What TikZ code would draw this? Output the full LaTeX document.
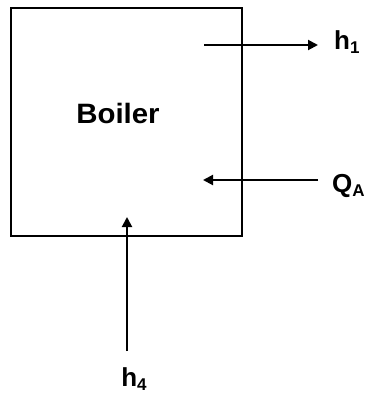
\documentclass[tikz,border=0pt]{standalone}
\usepackage{fontspec}
\setmainfont{Liberation Sans}
\usetikzlibrary{arrows.meta}
\begin{document}
\begin{tikzpicture}[x=1pt,y=-1pt,
  flow/.style={line width=2pt,-{Triangle[length=10pt,width=10pt]}},
  lbl/.style={inner sep=0pt,font=\bfseries\fontsize{26}{28}\selectfont}]
\useasboundingbox (0,0) rectangle (372,394);
\node[draw,line width=2pt,minimum width=231pt,minimum height=228pt,inner sep=0pt] (box) at (126.5,122) {};
\node[inner sep=0pt,font=\bfseries\fontsize{28}{30}\selectfont,anchor=base] (boiler) at (118,123) {\scalebox{1.05}[1]{Boiler}};
\node[lbl,anchor=base west] (h1) at (334,49) {h\raisebox{-0.3ex}{\fontsize{17}{17}\selectfont 1}};
\node[lbl,anchor=base west] (qa) at (332,192) {Q\raisebox{-0.3ex}{\fontsize{17}{17}\selectfont A}};
\node[lbl,anchor=base] (h4) at (134,386) {h\raisebox{-0.3ex}{\fontsize{17}{17}\selectfont 4}};
\coordinate (h1s) at (204,45);
\coordinate (h1e) at (318,45);
\coordinate (qas) at (318,180);
\coordinate (qae) at (203,180);
\coordinate (h4s) at (127,351);
\coordinate (h4e) at (127,217);
\draw[flow] (h1s) -- (h1e);
\draw[flow] (qas) -- (qae);
\draw[flow] (h4s) -- (h4e);
\end{tikzpicture}
\end{document}
